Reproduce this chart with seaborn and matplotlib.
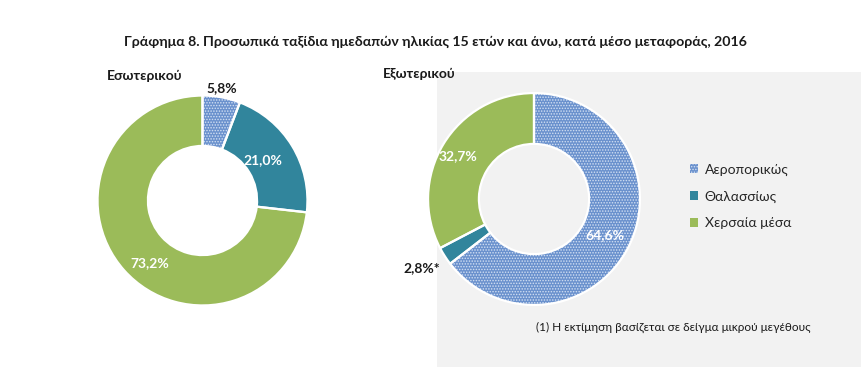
import matplotlib
matplotlib.use("Agg")
import matplotlib.pyplot as plt
from matplotlib.patches import Patch, Rectangle
import seaborn as sns

sns.set_theme(style="white")
plt.rcParams['font.family'] = ['Lato', 'DejaVu Sans']
plt.rcParams['hatch.linewidth'] = 0.7

title = "Γράφημα 8. Προσωπικά ταξίδια ημεδαπών ηλικίας 15 ετών και άνω, κατά μέσο μεταφοράς, 2016"
categories = ["Αεροπορικώς", "Θαλασσίως", "Χερσαία μέσα"]
domestic = [5.8, 21.0, 73.2]
abroad = [64.6, 2.8, 32.7]
domestic_labels = ["5,8%", "21,0%", "73,2%"]
abroad_labels = ["64,6%", "2,8%*", "32,7%"]
colors = ["#6a91cd", "#31859c", "#9bbb59"]
hatches = ["......", "", ""]
footnote = "(1) Η εκτίμηση βασίζεται σε δείγμα μικρού μεγέθους"

W, H = 862, 367
fig = plt.figure(figsize=(W / 100, H / 100), dpi=100)

def fx(x):
    return x / W

def fy(y):
    return 1 - y / H

# gray panel (background axes, added first)
bg = fig.add_axes([0, 0, 1, 1], zorder=-5)
bg.set_xlim(0, 1)
bg.set_ylim(0, 1)
bg.axis("off")
bg.add_patch(Rectangle((fx(437), 0), 1 - fx(437), fy(72), facecolor="#f2f2f2",
                       edgecolor="none"))

def donut(cx, cy, r, values, labels, label_pos, label_colors):
    x0, y0, x1, y1 = cx - r, cy - r, cx + r, cy + r
    ax = fig.add_axes([fx(x0), fy(y1), fx(x1) - fx(x0), fy(y0) - fy(y1)])
    ax.patch.set_alpha(0)
    ax.pie(values, colors=colors, startangle=90, counterclock=False,
           hatch=hatches, radius=1,
           wedgeprops=dict(width=0.48, edgecolor="#d3e0f3", linewidth=0))
    ax.pie(values, colors=["none"] * 3, startangle=90, counterclock=False, radius=1,
           wedgeprops=dict(width=0.48, edgecolor="white", linewidth=1.6, fill=False))
    ax.set_xlim(-1.01, 1.01)
    ax.set_ylim(-1.01, 1.01)
    ax.set_aspect("auto")
    ax.axis("off")
    for lab, (px, py), c in zip(labels, label_pos, label_colors):
        fig.text(fx(px), fy(py), lab, ha="center", va="center", fontsize=10,
                 fontweight="bold", color=c)
    return ax

donut(202.5, 200.5, 106, domestic, domestic_labels,
      [(222, 88), (263, 160), (150, 263)], ["#1a1a1a", "white", "white"])
donut(534, 199, 107, abroad, abroad_labels,
      [(605, 235), (422, 268), (458, 156)], ["white", "#1a1a1a", "white"])

fig.text(fx(435), fy(42), title, ha="center", va="center", fontsize=10.2, fontweight="bold",
         color="#1a1a1a")
fig.text(fx(107), fy(76), "Εσωτερικού", ha="left", va="center", fontsize=10,
         fontweight="bold", color="#1a1a1a")
fig.text(fx(383), fy(74), "Εξωτερικού", ha="left", va="center", fontsize=10,
         fontweight="bold", color="#1a1a1a")
fig.text(fx(536), fy(327), footnote, ha="left", va="center", fontsize=8.5, color="#1a1a1a")

handles = [Patch(facecolor=c, hatch=h, edgecolor="#d3e0f3" if h else c, linewidth=0)
           for c, h in zip(colors, hatches)]
fig.legend(handles, categories, loc="upper left", bbox_to_anchor=(fx(684), fy(158)),
           frameon=False, fontsize=10, handlelength=0.6, handleheight=0.6,
           handletextpad=0.5, labelspacing=1.05, borderaxespad=0)

fig.savefig("out.png", dpi=100)
